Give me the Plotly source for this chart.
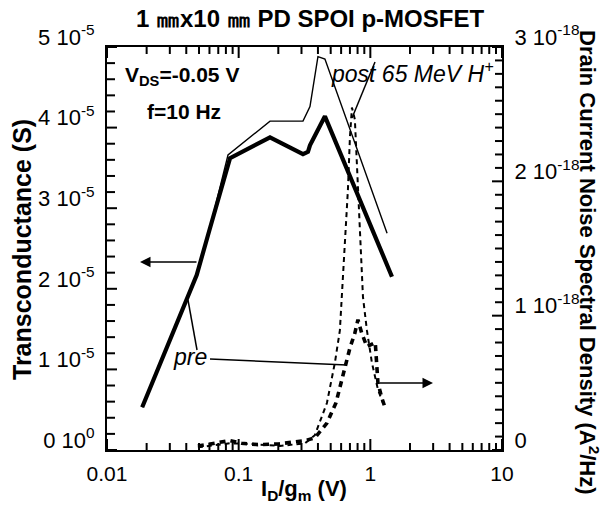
import math
import plotly.graph_objects as go

# Transconductance vs I_D/g_m, before and after 65 MeV proton irradiation
id_gm_pre = [0.0185, 0.048, 0.060, 0.086, 0.173, 0.308, 0.336, 0.348, 0.452, 1.12, 1.46]
gm_pre = [0.53e-5, 2.17e-5, 2.73e-5, 3.62e-5, 3.88e-5, 3.67e-5, 3.70e-5, 3.78e-5, 4.14e-5, 2.61e-5, 2.15e-5]

id_gm_post = [0.0185, 0.048, 0.060, 0.083, 0.173, 0.308, 0.348, 0.400, 0.452, 1.34]
gm_post = [0.53e-5, 2.17e-5, 2.73e-5, 3.66e-5, 4.08e-5, 4.08e-5, 4.26e-5, 4.88e-5, 4.85e-5, 2.69e-5]

# Drain current noise spectral density at f = 10 Hz
id_gm_sid_pre = [0.049, 0.065, 0.086, 0.105, 0.14, 0.20, 0.27, 0.319, 0.379, 0.43, 0.468,
                 0.548, 0.641, 0.70, 0.763, 0.805, 0.86, 0.942, 1.09, 1.142, 1.22, 1.29]
sid_pre = [0.03e-18, 0.05e-18, 0.07e-18, 0.05e-18, 0.04e-18, 0.045e-18, 0.06e-18, 0.07e-18,
           0.09e-18, 0.15e-18, 0.20e-18, 0.35e-18, 0.60e-18, 0.76e-18, 0.87e-18, 0.97e-18,
           0.87e-18, 0.77e-18, 0.80e-18, 0.50e-18, 0.39e-18, 0.32e-18]

id_gm_sid_post = [0.049, 0.086, 0.122, 0.206, 0.319, 0.379, 0.468, 0.538, 0.587, 0.641,
                  0.676, 0.700, 0.725, 0.763, 0.805, 0.834, 0.879, 0.942, 1.028, 1.142, 1.247]
sid_post = [0.02e-18, 0.05e-18, 0.045e-18, 0.03e-18, 0.05e-18, 0.11e-18, 0.35e-18, 0.65e-18,
            0.89e-18, 1.60e-18, 1.94e-18, 2.33e-18, 2.55e-18, 2.46e-18, 1.94e-18, 1.56e-18,
            1.14e-18, 0.89e-18, 0.65e-18, 0.45e-18, 0.35e-18]

x_tickvals = [0.01, 0.1, 1, 10]
x_ticktext = ["0.01", "0.1", "1", "10"]
gm_tickvals = [0, 1e-5, 2e-5, 3e-5, 4e-5, 5e-5]
gm_ticktext = ["0 10<sup>0</sup>", "1 10<sup>-5</sup>", "2 10<sup>-5</sup>",
               "3 10<sup>-5</sup>", "4 10<sup>-5</sup>", "5 10<sup>-5</sup>"]
sid_tickvals = [0, 1e-18, 2e-18, 3e-18]
sid_ticktext = ["0", "1 10<sup>-18</sup>", "2 10<sup>-18</sup>", "3 10<sup>-18</sup>"]

FONT = "Liberation Sans, Arial, sans-serif"
W, H = 603, 509
L, R, T, B = 107, 502, 47, 450
X_RANGE = [-2, 1]
GM_RANGE = [0, 5e-5]
SID_RANGE = [0, 3e-18]
PW, PH = R - L, B - T


def px(xp):
    return (xp - L) / PW


def py(yp):
    return (B - yp) / PH


fig = go.Figure()
fig.add_trace(go.Scatter(x=id_gm_pre, y=gm_pre, mode="lines",
                         line=dict(color="black", width=4.2), yaxis="y"))
fig.add_trace(go.Scatter(x=id_gm_post, y=gm_post, mode="lines",
                         line=dict(color="black", width=1.4), yaxis="y"))
fig.add_trace(go.Scatter(x=id_gm_sid_pre, y=sid_pre, mode="lines",
                         line=dict(color="black", width=3.6, dash="6px,5px"), yaxis="y2"))
fig.add_trace(go.Scatter(x=id_gm_sid_post, y=sid_post, mode="lines",
                         line=dict(color="black", width=2, dash="5px,4px"), yaxis="y2"))

plain = dict(showgrid=False, zeroline=False, fixedrange=True, ticks="")

fig.update_layout(
    width=W, height=H,
    margin=dict(l=L, r=W - R, t=T, b=H - B),
    paper_bgcolor="white", plot_bgcolor="white",
    showlegend=False,
    font=dict(family=FONT, color="black", size=21),
    xaxis=dict(type="log", range=X_RANGE, tickmode="array",
               tickvals=x_tickvals, ticktext=x_ticktext,
               showline=True, linecolor="black", linewidth=2, mirror=True,
               tickfont=dict(size=21), ticklabelstandoff=4, **plain),
    yaxis=dict(range=GM_RANGE, tickmode="array",
               tickvals=gm_tickvals, ticktext=gm_ticktext,
               showline=True, linecolor="black", linewidth=2,
               tickfont=dict(size=22), ticklabelshift=-10, ticklabelstandoff=6,
               **plain),
    yaxis2=dict(range=SID_RANGE, overlaying="y", side="right", tickmode="array",
                tickvals=sid_tickvals, ticktext=sid_ticktext,
                showline=True, linecolor="black", linewidth=2,
                tickfont=dict(size=22), ticklabelshift=-10, ticklabelstandoff=6,
                **plain),
)

# inward tick marks on all four sides of the frame (paper fractions of the plot area)
TICK = dict(color="black", width=2)
shapes = []


def xfrac(v):
    return (math.log10(v) - X_RANGE[0]) / (X_RANGE[1] - X_RANGE[0])


x_minor = [m * 10 ** e for e in (-2, -1, 0) for m in range(2, 10)]
for v, ln in [(v, 11) for v in x_tickvals] + [(v, 7) for v in x_minor]:
    f = xfrac(v)
    shapes.append(dict(type="line", xref="paper", yref="paper", x0=f, x1=f,
                       y0=0, y1=ln / PH, line=TICK))
    shapes.append(dict(type="line", xref="paper", yref="paper", x0=f, x1=f,
                       y0=1, y1=1 - ln / PH, line=TICK))

gm_step = 2e-6
for i in range(int(round(GM_RANGE[1] / gm_step)) + 1):
    f = i * gm_step / GM_RANGE[1]
    ln = 10 if i % 5 == 0 else 8
    shapes.append(dict(type="line", xref="paper", yref="paper", x0=0, x1=ln / PW,
                       y0=f, y1=f, line=TICK))

sid_step = 1e-19
for i in range(int(round(SID_RANGE[1] / sid_step)) + 1):
    f = i * sid_step / SID_RANGE[1]
    ln = 10 if i % 10 == 0 else 7
    shapes.append(dict(type="line", xref="paper", yref="paper", x0=1, x1=1 - ln / PW,
                       y0=f, y1=f, line=TICK))

# leader lines from the curve labels
leaders = [((352, 118), (375, 62)), ((197, 350), (188, 300)), ((210, 359), (347, 365))]
for a, b in leaders:
    shapes.append(dict(type="line", xref="paper", yref="paper", x0=px(a[0]), y0=py(a[1]),
                       x1=px(b[0]), y1=py(b[1]), line=dict(color="black", width=1.5)))
fig.update_layout(shapes=shapes)

ann = []
# chart title
ann.append(dict(text="<b>1 ㎜x10 ㎜ PD SPOI p-MOSFET</b>", x=px(310), y=py(18),
                xref="paper", yref="paper", showarrow=False, font=dict(size=24),
                xanchor="center", yanchor="middle"))
# axis titles
ann.append(dict(text="<b>I<sub>D</sub>/g<sub>m</sub> (V)</b>", x=px(304), y=py(490),
                xref="paper", yref="paper", showarrow=False, font=dict(size=22),
                xanchor="center", yanchor="middle"))
ann.append(dict(text="<b>Transconductance (S)</b>", x=px(22), y=py(250),
                xref="paper", yref="paper", showarrow=False, font=dict(size=25),
                textangle=-90, xanchor="center", yanchor="middle"))
ann.append(dict(text="<b>Drain Current Noise Spectral Density (A<sup>2</sup>/Hz)</b>",
                x=px(589), y=py(262), xref="paper", yref="paper", showarrow=False,
                font=dict(size=22), textangle=90, xanchor="center", yanchor="middle"))
# bias conditions
ann.append(dict(text="<b>V<sub>DS</sub>=-0.05 V</b>", x=px(182), y=py(76),
                xref="paper", yref="paper", showarrow=False, font=dict(size=21),
                xanchor="center", yanchor="middle"))
ann.append(dict(text="<b>f=10 Hz</b>", x=px(184), y=py(112),
                xref="paper", yref="paper", showarrow=False, font=dict(size=21),
                xanchor="center", yanchor="middle"))
# curve labels
ann.append(dict(text="<i>post 65 MeV H<sup>+</sup></i>", x=px(329), y=py(72),
                xref="paper", yref="paper", showarrow=False, font=dict(size=23),
                xanchor="left", yanchor="middle"))
ann.append(dict(text="<i>pre</i>", x=px(190), y=py(357),
                xref="paper", yref="paper", showarrow=False, font=dict(size=23),
                xanchor="center", yanchor="middle"))
# axis pointers
ann.append(dict(x=px(140), y=py(262), ax=58, ay=0, xref="paper", yref="paper",
                text="", showarrow=True, arrowhead=2, arrowsize=1.4, arrowwidth=1.5,
                arrowcolor="black"))
ann.append(dict(x=px(433), y=py(383), ax=-55, ay=0, xref="paper", yref="paper",
                text="", showarrow=True, arrowhead=2, arrowsize=1.4, arrowwidth=1.5,
                arrowcolor="black"))
fig.update_layout(annotations=ann)

fig.write_html("out.html")
